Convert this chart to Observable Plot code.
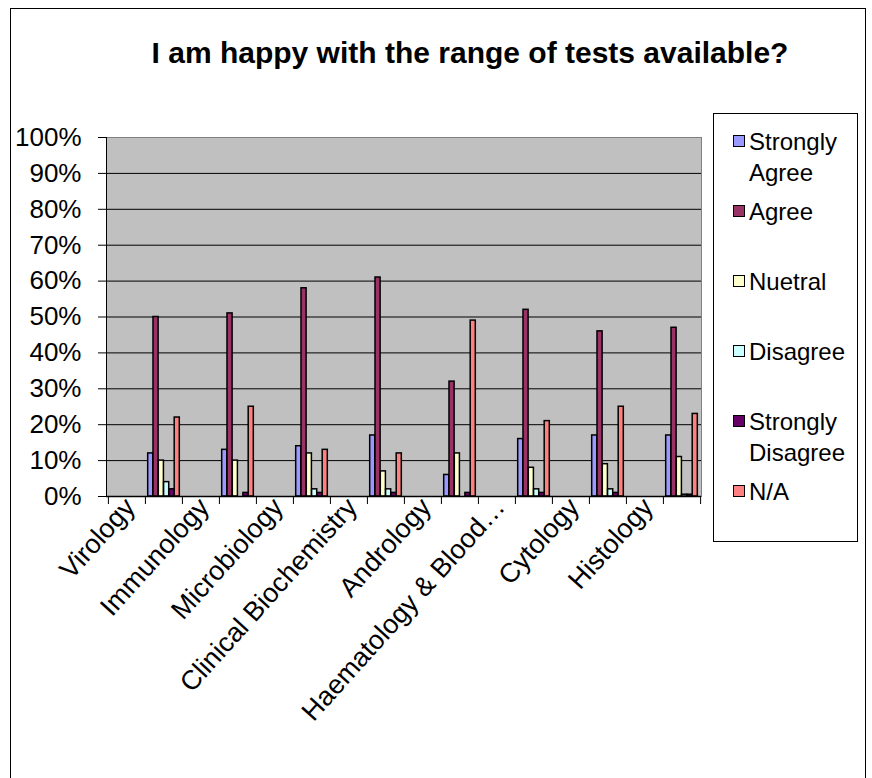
<!DOCTYPE html>
<html>
<head>
<meta charset="utf-8">
<script src="https://cdn.jsdelivr.net/npm/d3@7"></script>
<script src="https://cdn.jsdelivr.net/npm/@observablehq/plot@0.6"></script>
<style>
  body { margin: 0; background: #fff; font-family: "Liberation Sans", Arial, sans-serif; }
  #wrap { position: relative; width: 872px; height: 778px; overflow: hidden; background: #fff; }
  #border { position: absolute; left: 10px; top: 8px; width: 854px; height: 820px; border: 1px solid #000; }
  #title { position: absolute; left: 0; top: 35px; width: 940px; text-align: center; font-weight: bold; font-size: 30px; line-height: 36px; color: #000; }
  #chart { position: absolute; left: 0; top: 100px; }
  #legend { position: absolute; left: 713px; top: 113px; width: 143px; height: 427px; border: 1px solid #000; background: #fff; }
  .item { position: absolute; left: 19px; font-size: 24px; line-height: 31px; color: #000; }
  .sw { position: absolute; left: 0; top: 9px; width: 10px; height: 10px; border: 1px solid #000; }
  .lbl { position: absolute; left: 16px; top: 0; width: 112px; }
</style>
</head>
<body>
<div id="wrap">
  <div id="border"></div>
  <div id="title">I am happy with the range of tests available?</div>
  <div id="chart"></div>
  <div id="legend"></div>
</div>
<script>
// ---- data ----
const categories = ["Virology", "Immunology", "Microbiology", "Clinical Biochemistry", "Andrology", "Haematology & Blood\u2026", "Cytology", "Histology"];
const series = ["Strongly Agree", "Agree", "Nuetral", "Disagree", "Strongly Disagree", "N/A"];
const colors = ["#9999FF", "#993366", "#FFFFCC", "#CCFFFF", "#660066", "#FF8080"];
const stronglyAgree    = [12, 13, 14, 17,  6, 16, 17, 17];
const agree            = [50, 51, 58, 61, 32, 52, 46, 47];
const neutral          = [10, 10, 12,  7, 12,  8,  9, 11];
const disagree         = [ 4,  0,  2,  2,  0,  2,  2, 0.5];
const stronglyDisagree = [ 2,  1,  1,  1,  1,  1,  1, 0.5];
const notApplicable    = [22, 25, 13, 12, 49, 21, 25, 23];
const yTicks = [0, 0.1, 0.2, 0.3, 0.4, 0.5, 0.6, 0.7, 0.8, 0.9, 1];

// ---- build ----
const values = [stronglyAgree, agree, neutral, disagree, stronglyDisagree, notApplicable];
const dataSlot = c => c + " \u00b7";
const slots = categories.flatMap(c => [c, dataSlot(c)]);
const rows = series.flatMap((s, i) => categories.map((c, j) => ({series: s, slot: dataSlot(c), value: values[i][j] / 100})));

const W = 712, H = 678, ML = 106, MR = 11, MT = 37, MB = 282;
const bw = (W - ML - MR) / slots.length;
const barW = 5.3;
const inset = (bw - barW) / 2;

const chart = Plot.plot({
  width: W, height: H,
  marginLeft: ML, marginRight: MR, marginTop: MT, marginBottom: MB,
  style: {fontFamily: "'Liberation Sans', Arial, sans-serif", fontSize: "25px", background: "transparent", color: "#000", overflow: "visible"},
  x: {domain: slots, padding: 0, axis: null, label: null},
  y: {domain: [0, 1], axis: null, label: null},
  color: {domain: series, range: colors},
  marks: [
    Plot.frame({fill: "#C0C0C0", stroke: "#808080"}),
    Plot.gridY({ticks: yTicks.slice(1, -1), stroke: "#000", strokeOpacity: 1, strokeWidth: 1}),
    ...series.map((s, i) => Plot.barY(rows.filter(r => r.series === s), {
      x: "slot", y: "value", fill: "series", stroke: "#000", strokeWidth: 1.5,
      insetLeft: inset, insetRight: inset, dx: (i - 2.5) * barW
    })),
    Plot.ruleY([0], {stroke: "#000", strokeWidth: 1.5}),
    Plot.frame({anchor: "left", stroke: "#000"}),
    Plot.axisY({ticks: yTicks, tickFormat: d3.format(".0%"), tickSize: 8, tickPadding: 17, fontSize: 26, label: null}),
    Plot.axisX({ticks: slots, tickSize: 8, tickFormat: () => "", dx: -bw / 2, label: null}),
    Plot.axisX({ticks: [slots[slots.length - 1]], tickSize: 8, tickFormat: () => "", dx: bw / 2, label: null}),
    Plot.axisX({ticks: categories, tickSize: 0, tickPadding: 6, tickRotate: -48, fontSize: 27, dx: 3, label: null})
  ]
});
document.getElementById("chart").appendChild(chart);

// ---- legend ----
const legend = document.getElementById("legend");
series.forEach((s, i) => {
  const item = document.createElement("div");
  item.className = "item";
  item.style.top = (11.5 + i * 70) + "px";
  const sw = document.createElement("span");
  sw.className = "sw";
  sw.style.background = colors[i];
  const lbl = document.createElement("span");
  lbl.className = "lbl";
  lbl.textContent = s;
  item.appendChild(sw);
  item.appendChild(lbl);
  legend.appendChild(item);
});
</script>
</body>
</html>
